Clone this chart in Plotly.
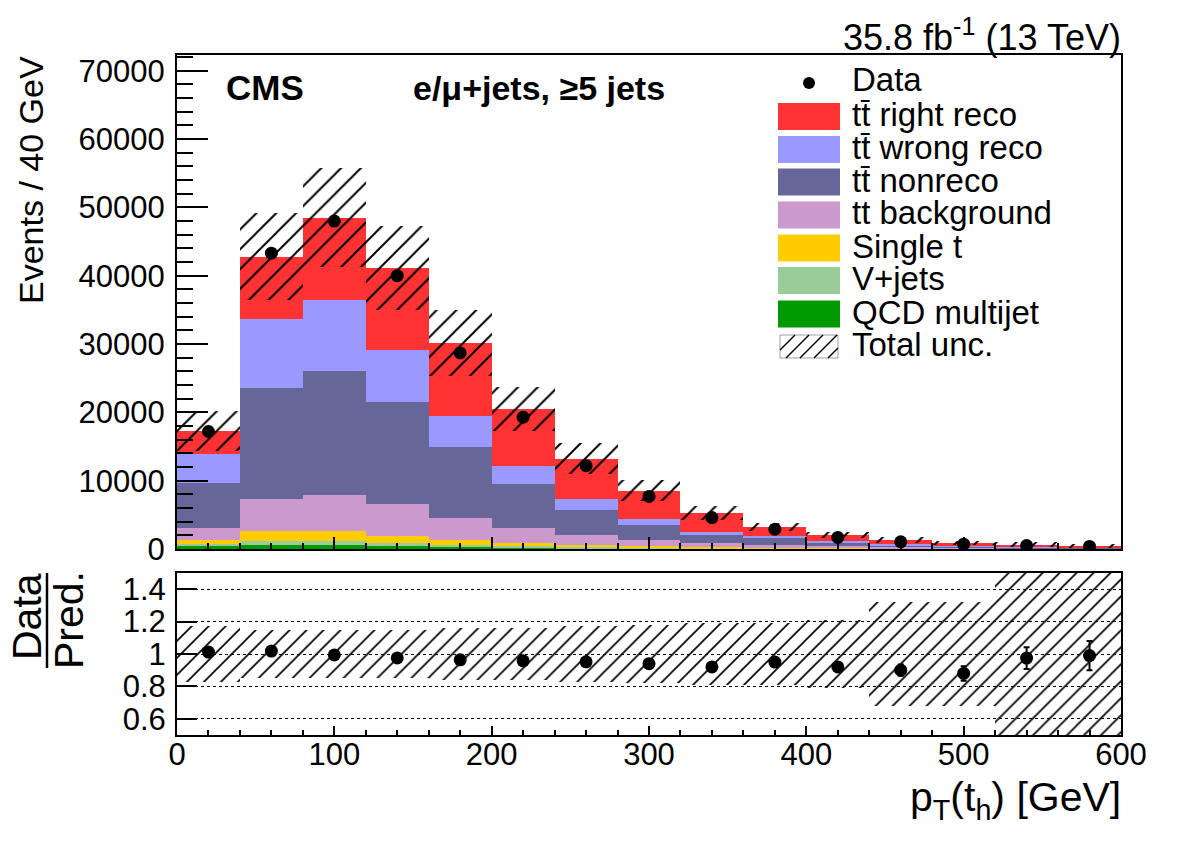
import numpy as np
import plotly.graph_objects as go

# ---------------- data (events, 40 GeV bins) ----------------
bin_edges = list(range(0, 640, 40))
bin_centers = [20, 60, 100, 140, 180, 220, 260, 300, 340, 380, 420, 460, 500, 540, 580]

qcd      = [450, 600, 600, 450, 300, 200, 120, 80, 50, 30, 20, 10, 10, 5, 5]
vjets    = [350, 600, 600, 450, 300, 200, 130, 70, 50, 30, 20, 20, 10, 5, 5]
single_t = [500, 1400, 1400, 1000, 700, 500, 350, 250, 150, 90, 60, 30, 20, 20, 10]
tt_bkg   = [1800, 4700, 5300, 4700, 3200, 2200, 1400, 900, 650, 450, 300, 190, 110, 70, 50]
tt_nonreco = [6600, 16300, 18200, 14900, 10400, 6400, 3700, 2200, 1100, 1000, 500, 300, 200, 120, 90]
tt_wrong = [4200, 10100, 10400, 7600, 4600, 2700, 1600, 900, 500, 300, 200, 150, 100, 80, 60]
tt_right = [3400, 9100, 12000, 12000, 10600, 8300, 5900, 4100, 2800, 1300, 900, 600, 450, 300, 230]

data_vals = [17200, 43300, 48000, 40000, 28700, 19300, 12200, 7700, 4600, 2900, 1700, 1050, 700, 500, 380]

ratio_vals = [1.012, 1.018, 0.994, 0.976, 0.964, 0.958, 0.952, 0.94, 0.92, 0.95, 0.92, 0.90, 0.88, 0.975, 0.99]
ratio_errs = [0.005, 0.004, 0.004, 0.004, 0.005, 0.006, 0.008, 0.01, 0.015, 0.02, 0.025, 0.035, 0.045, 0.067, 0.09]
rel_unc = [0.17, 0.15, 0.15, 0.15, 0.16, 0.16, 0.17, 0.18, 0.19, 0.19, 0.21, 0.32, 0.32, 0.6, 0.6]

components = [
    ("QCD multijet", qcd, "#009900"),
    ("V+jets", vjets, "#99cc99"),
    ("Single t", single_t, "#ffcc00"),
    ("tt background", tt_bkg, "#cc99cc"),
    ("t\u0074\u0304 nonreco", tt_nonreco, "#666699"),
    ("t\u0074\u0304 wrong reco", tt_wrong, "#9999ff"),
    ("t\u0074\u0304 right reco", tt_right, "#ff3333"),
]

W, H = 1182, 848
FONT = "Liberation Sans, Arial, Helvetica, sans-serif"


def px(x):
    return x / W


def py(y):
    return 1 - y / H


fig = go.Figure()

# stacked histogram
cum = np.zeros(len(bin_centers))
for name, vals, col in components:
    v = np.array(vals, dtype=float)
    fig.add_trace(go.Bar(x=bin_centers, y=v, base=cum.copy(), width=40,
                         marker=dict(color=col, line=dict(width=0)),
                         name=name, showlegend=False, xaxis="x", yaxis="y"))
    cum = cum + v
pred = cum
unc = np.array(rel_unc)

hatch = dict(shape="/", fgcolor="black", fgopacity=1, solidity=0.14, fillmode="overlay")

# total uncertainty hatch (main)
fig.add_trace(go.Bar(x=bin_centers, y=2 * unc * pred, base=pred * (1 - unc), width=40,
                     marker=dict(color="rgba(0,0,0,0)", line=dict(width=0),
                                 pattern=dict(size=14, **hatch)),
                     showlegend=False, xaxis="x", yaxis="y"))

# data points
fig.add_trace(go.Scatter(x=bin_centers, y=data_vals, mode="markers",
                         marker=dict(color="black", size=13),
                         showlegend=False, xaxis="x", yaxis="y"))

# ratio band
fig.add_trace(go.Bar(x=bin_centers, y=2 * unc, base=1 - unc, width=40,
                     marker=dict(color="rgba(0,0,0,0)", line=dict(width=0),
                                 pattern=dict(size=12, **hatch)),
                     showlegend=False, xaxis="x2", yaxis="y2"))

fig.add_trace(go.Scatter(x=bin_centers, y=ratio_vals, mode="markers",
                         marker=dict(color="black", size=13),
                         error_y=dict(type="data", array=ratio_errs, color="black",
                                      thickness=2, width=3),
                         showlegend=False, xaxis="x2", yaxis="y2"))

xdom = [px(177), px(1121)]
axis_common = dict(showline=True, linecolor="black", linewidth=2, mirror=True,
                   ticks="inside", tickcolor="black", tickwidth=1.5,
                   tickfont=dict(family=FONT, size=31, color="black"),
                   zeroline=False, automargin=False)

fig.update_layout(
    width=W, height=H,
    margin=dict(l=0, r=0, t=0, b=0),
    paper_bgcolor="white", plot_bgcolor="white",
    barmode="overlay", bargap=0,
    showlegend=False,
    font=dict(family=FONT, color="black"),
    xaxis=dict(domain=xdom, anchor="y", range=[0, 600], dtick=100, tick0=0,
               ticklen=12, showticklabels=False, showgrid=False,
               minor=dict(dtick=20, ticklen=6, ticks="inside", tickcolor="black", tickwidth=1.5),
               **axis_common),
    yaxis=dict(domain=[py(549), py(55)], anchor="x", range=[0, 72300], dtick=10000, tick0=0,
               ticklen=31, tickformat="d", showgrid=False, ticklabelstandoff=4,
               minor=dict(dtick=2000, ticklen=16, ticks="inside", tickcolor="black", tickwidth=1.5),
               **axis_common),
    xaxis2=dict(domain=xdom, anchor="y2", range=[0, 600], dtick=100, tick0=0,
                ticklen=9, showgrid=False, ticklabelstandoff=-9,
                minor=dict(dtick=20, ticklen=5, ticks="inside", tickcolor="black", tickwidth=1.5),
                **axis_common),
    yaxis2=dict(domain=[py(735), py(573)], anchor="x2", range=[0.5, 1.5],
                tickvals=[0.6, 0.8, 1.0, 1.2, 1.4], ticktext=["0.6", "0.8", "1", "1.2", "1.4"],
                ticklen=20, showgrid=True, gridcolor="black", gridwidth=1, griddash="dot",
                ticklabelstandoff=3,
                **axis_common),
)

ann = []
shapes = []


def text(x, y, s, size, xanchor="left", bold=False, angle=0, yanchor="middle"):
    if bold:
        s = "<b>" + s + "</b>"
    ann.append(dict(x=px(x), y=py(y), xref="paper", yref="paper", text=s, showarrow=False,
                    xanchor=xanchor, yanchor=yanchor, textangle=angle,
                    font=dict(family=FONT, size=size, color="black")))


text(224, 88, "CMS", 35, bold=True)
text(411, 88, "e/\u03bc+jets, \u22655 jets", 34, bold=True)
text(1123, 35, "35.8 fb<sup>-1</sup> (13 TeV)", 36, xanchor="right")
text(31, 180, "Events / 40 GeV", 34, xanchor="center", angle=-90)
text(1123, 800, "p<sub>T</sub>(t<sub>h</sub>) [GeV]", 41, xanchor="right")
text(27, 617, "Data", 41, xanchor="center", angle=-90)
text(69, 620, "Pred.", 41, xanchor="center", angle=-90)
shapes.append(dict(type="line", xref="paper", yref="paper", x0=px(47), x1=px(47),
                   y0=py(573), y1=py(668), line=dict(color="black", width=2.5)))

# legend (manual)
legend_rows = [
    ("t\u0074\u0304 right reco", "#ff3333", 116.5),
    ("t\u0074\u0304 wrong reco", "#9999ff", 149.5),
    ("t\u0074\u0304 nonreco", "#666699", 182),
    ("tt background", "#cc99cc", 215),
    ("Single t", "#ffcc00", 248),
    ("V+jets", "#99cc99", 280.5),
    ("QCD multijet", "#009900", 314),
]
LFS = 33
text(850, 80, "Data", LFS)
shapes.append(dict(type="circle", xref="paper", yref="paper", x0=px(803), x1=px(815),
                   y0=py(77), y1=py(89), fillcolor="black", line=dict(width=0)))
for lab, col, yc in legend_rows:
    shapes.append(dict(type="rect", xref="paper", yref="paper", x0=px(778), x1=px(840),
                       y0=py(yc + 13.5), y1=py(yc - 13.5), fillcolor=col, line=dict(width=0)))
    text(850, yc - 2, lab, LFS)
text(850, 344, "Total unc.", LFS)
shapes.append(dict(type="rect", xref="paper", yref="paper", x0=px(780), x1=px(838),
                   y0=py(358), y1=py(335), fillcolor="rgba(0,0,0,0)",
                   line=dict(color="#888888", width=0.8)))
for k in range(5):
    x0 = 780 + k * 14 - 8
    x1 = x0 + 23
    xa0, ya0 = max(x0, 780), 358 - (max(x0, 780) - x0)
    xa1, ya1 = min(x1, 838), 335 + (x1 - min(x1, 838))
    if xa1 > xa0:
        shapes.append(dict(type="line", xref="paper", yref="paper", x0=px(xa0), y0=py(ya0),
                           x1=px(xa1), y1=py(ya1), line=dict(color="black", width=1.5)))

fig.update_layout(annotations=ann, shapes=shapes)
fig.write_html("out.html")
